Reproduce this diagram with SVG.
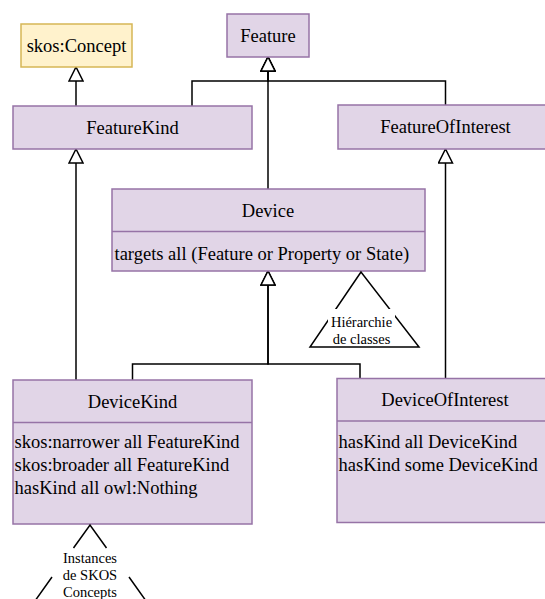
<svg xmlns="http://www.w3.org/2000/svg" width="545" height="599" viewBox="0 0 545 599">
<style>
.cls{fill:#e1d5e7;stroke:#9673a6;stroke-width:1.5}
.yel{fill:#fff2cc;stroke:#d6b656;stroke-width:1.5}
.t{font-family:"Liberation Serif","Times New Roman",serif;font-size:18.5px;fill:#000}
.c{text-anchor:middle}
.s{font-family:"Liberation Serif","Times New Roman",serif;font-size:14.5px;fill:#000;text-anchor:middle}
.e{fill:none;stroke:#000;stroke-width:1.5}
.tri{fill:#fff;stroke:#000;stroke-width:1.5}
</style>
<defs>
<marker id="inh" markerUnits="userSpaceOnUse" markerWidth="16" markerHeight="16" viewBox="-1 -1 16 16" refX="14" refY="7" orient="auto">
<path d="M0,0 L14,7 L0,14 Z" fill="#fff" stroke="#000" stroke-width="1.5"/>
</marker>
</defs>
<rect width="545" height="599" fill="#fff"/>
<g id="edges">
<path class="e" d="M76,106 V67" marker-end="url(#inh)"/>
<path class="e" d="M192,106 V81 H268 V57" marker-end="url(#inh)"/>
<path class="e" d="M445.5,105 V81 H268 V57" marker-end="url(#inh)"/>
<path class="e" d="M268,189 V57" marker-end="url(#inh)"/>
<path class="e" d="M76,380 V149" marker-end="url(#inh)"/>
<path class="e" d="M132.5,380 V364 H268 V271" marker-end="url(#inh)"/>
<path class="e" d="M360,378.5 V364 H268 V271" marker-end="url(#inh)"/>
<path class="e" d="M445.5,378.5 V149" marker-end="url(#inh)"/>
</g>
<g id="skosConcept">
<rect class="yel" x="21" y="24" width="111" height="43"/>
<text class="t c" x="76.5" y="52">skos:Concept</text>
</g>
<g id="Feature">
<rect class="cls" x="227" y="14" width="82" height="43"/>
<text class="t c" x="268" y="42">Feature</text>
</g>
<g id="FeatureKind">
<rect class="cls" x="13" y="106" width="239" height="43"/>
<text class="t c" x="132.5" y="134">FeatureKind</text>
</g>
<g id="FeatureOfInterest">
<rect class="cls" x="338" y="105" width="215" height="44"/>
<text class="t c" x="445.5" y="133">FeatureOfInterest</text>
</g>
<g id="Device">
<rect class="cls" x="112" y="189" width="313" height="82"/>
<line class="cls" x1="112" y1="231.5" x2="425" y2="231.5"/>
<text class="t c" x="268" y="217">Device</text>
<text class="t" x="114.5" y="260">targets all (Feature or Property or State)</text>
</g>
<g id="hierarchie">
<path class="tri" d="M361,272 L310,347 L419,347 Z"/>
<rect x="328" y="309" width="67" height="35" fill="#fff"/>
<text class="s" x="361.5" y="326.5">Hiérarchie</text>
<text class="s" x="361.5" y="344">de classes</text>
</g>
<g id="DeviceKind">
<rect class="cls" x="13" y="380" width="239" height="144"/>
<line class="cls" x1="13" y1="422.5" x2="252" y2="422.5"/>
<text class="t c" x="132.5" y="408">DeviceKind</text>
<text class="t" x="14.5" y="448">skos:narrower all FeatureKind</text>
<text class="t" x="14.5" y="471">skos:broader all FeatureKind</text>
<text class="t" x="14.5" y="494">hasKind all owl:Nothing</text>
</g>
<g id="instances">
<path class="e" d="M73.5,548 L90,525 L106.5,548 M52,577 L36,599.5 M129,577 L145,599.5"/>
<text class="s" x="90" y="562.5">Instances</text>
<text class="s" x="90" y="580">de SKOS</text>
<text class="s" x="90" y="597">Concepts</text>
</g>
<g id="DeviceOfInterest">
<rect class="cls" x="337" y="378.5" width="216" height="144"/>
<line class="cls" x1="337" y1="421" x2="553" y2="421"/>
<text class="t c" x="445" y="406">DeviceOfInterest</text>
<text class="t" x="338.5" y="447.5">hasKind all DeviceKind</text>
<text class="t" x="338.5" y="470.5">hasKind some DeviceKind</text>
</g>
</svg>
